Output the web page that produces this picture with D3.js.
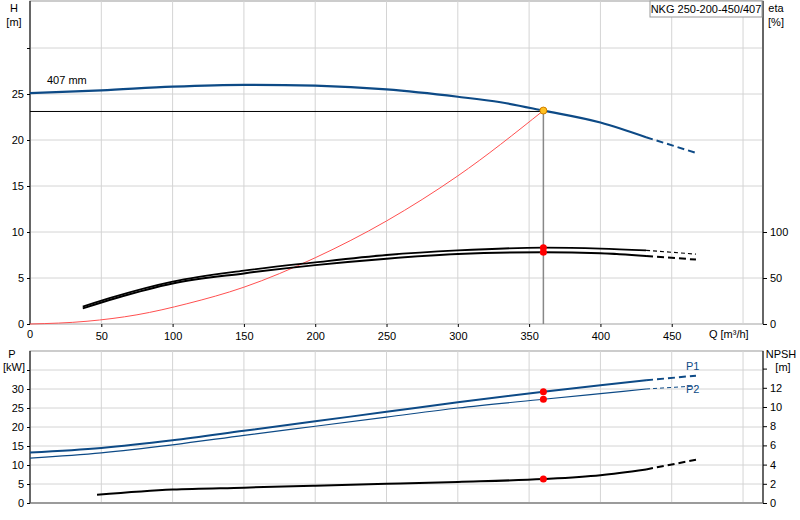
<!DOCTYPE html>
<html><head><meta charset="utf-8">
<script src="https://cdn.jsdelivr.net/npm/d3@7"></script>
<style>body{margin:0;background:#fff}text{font-family:Arial,"Liberation Sans",sans-serif;font-size:11px;fill:#000}</style>
</head><body><svg id="c" width="800" height="520"></svg>
<script>
const qTicks=[50,100,150,200,250,300,350,400,450];
const hTicks=[0,5,10,15,20,25];
const etaTicks=[0,50,100];
const pTicks=[0,5,10,15,20,25,30];
const npshTicks=[0,2,4,6,8,10,12];
const headQ=[0,50,100,150,200,250,300,330,360,400,432], headH=[25.1,25.4,25.8,26.0,25.9,25.5,24.7,24.1,23.2,21.9,20.3];
const headDashQ=[432,467], headDashH=[20.3,18.6];
const sysQ=[0,40,75,110,150,200,250,300,360], sysH=[0,0.3,1.0,2.2,4.0,7.2,11.2,16.1,23.2];
const etaQ=[37,60,100,150,200,250,300,360,400,432];
const eta1=[19,30,46,58,67,75,80,83,82,80], eta2=[17,28,44,55,64,71,76,78,77,74];
const etaDashQ=[432,467], eta1Dash=[80,76], eta2Dash=[74,70];
const pQ=[0,50,100,150,200,250,300,360,400,432];
const p1=[13.3,14.5,16.5,19,21.5,24,26.5,29.3,31,32.3], p2=[11.8,13.2,15.3,17.8,20.2,22.6,25,27.3,28.8,30];
const pDashQ=[432,467], p1Dash=[32.3,33.5], p2Dash=[30,30.8];
const nQ=[47,100,150,200,250,300,360,400,432], npsh=[0.85,1.4,1.6,1.8,2.0,2.2,2.5,2.9,3.5];
const nDashQ=[432,467], npshDash=[3.5,4.5];
const opQ=360, opH=23.2;

const svg=d3.select("#c");
const L=30,R=763;
const x=d3.scaleLinear().domain([0,514]).range([L,R]);
const yH=d3.scaleLinear().domain([0,35]).range([324,2]);
const yEta=d3.scaleLinear().domain([0,100]).range([324,232]);
const yP=d3.scaleLinear().domain([0,40]).range([503,351]);
const yN=d3.scaleLinear().domain([0,16]).range([503,349.4]);
const grid="#d4d4d4";
function panel(y0,y1,yTicks,yS){
  svg.append("rect").attr("x",L).attr("y",y0).attr("width",R-L).attr("height",y1-y0).attr("fill","none").attr("stroke","#999");
  [...qTicks,500].forEach(q=>svg.append("line").attr("x1",x(q)).attr("x2",x(q)).attr("y1",y0).attr("y2",y1).attr("stroke",grid));
  yTicks.forEach(v=>svg.append("line").attr("x1",L).attr("x2",R).attr("y1",yS(v)).attr("y2",yS(v)).attr("stroke",grid));
}
panel(1,324,[0,5,10,15,20,25,30],yH);
panel(351,503,[0,5,10,15,20,25,30,35],yP);
svg.append("g").attr("transform",`translate(${L},0)`).call(d3.axisLeft(yH).tickValues([...hTicks,30]).tickFormat(d=>d==30?"":d).tickSize(3)).call(g=>g.select(".domain").attr("d",`M0,1V324`));
svg.append("g").attr("transform",`translate(${R},0)`).call(d3.axisRight(yEta).tickValues(etaTicks).tickSize(4)).call(g=>g.select(".domain").attr("d",`M0,1V324`));
svg.append("g").attr("transform",`translate(0,324)`).call(d3.axisBottom(x).tickValues(qTicks).tickSize(3)).call(g=>g.select(".domain").remove()).call(g=>g.selectAll("text").attr("dy","0.9em"));
svg.append("text").attr("x",L).attr("y",338).attr("text-anchor","middle").text("0");
svg.append("text").attr("x",x(490)).attr("y",338).attr("text-anchor","middle").attr("font-size",10).text("Q [m³/h]");
svg.append("g").attr("transform",`translate(${L},0)`).call(d3.axisLeft(yP).tickValues([...pTicks,35]).tickFormat(d=>d==35?"":d).tickSize(3)).call(g=>g.select(".domain").attr("d",`M0,351V503`));
svg.append("g").attr("transform",`translate(${R},0)`).call(d3.axisRight(yN).tickValues([...npshTicks,14]).tickFormat(d=>d==14?"":d).tickSize(4)).call(g=>g.select(".domain").attr("d",`M0,351V503`));
svg.append("line").attr("x1",L).attr("x2",R).attr("y1",503).attr("y2",503).attr("stroke","#666");
svg.selectAll(".tick text").style("font-size","11px");
[["H",14,12],["[m]",14,26]].forEach(t=>svg.append("text").attr("x",t[1]).attr("y",t[2]).attr("text-anchor","middle").attr("font-size",10).text(t[0]));
[["eta",776,12],["[%]",776,26]].forEach(t=>svg.append("text").attr("x",t[1]).attr("y",t[2]).attr("text-anchor","middle").attr("font-size",10).text(t[0]));
[["P",12,358],["[kW]",14,371]].forEach(t=>svg.append("text").attr("x",t[1]).attr("y",t[2]).attr("text-anchor","middle").attr("font-size",10).text(t[0]));
[["NPSH",781,358],["[m]",783,371]].forEach(t=>svg.append("text").attr("x",t[1]).attr("y",t[2]).attr("text-anchor","middle").attr("font-size",10).text(t[0]));
svg.append("rect").attr("x",650).attr("y",1).attr("width",112).attr("height",16).attr("fill","#fff").attr("stroke","#999");
svg.append("text").attr("x",706).attr("y",13).attr("text-anchor","middle").attr("font-size",10).text("NKG 250-200-450/407");
svg.append("text").attr("x",47).attr("y",84).attr("font-size",10).text("407 mm");
const line=(xs,ys,yS,col,w,dash)=>svg.append("path").attr("d",d3.line().curve(d3.curveMonotoneX)(xs.map((q,i)=>[x(q),yS(ys[i])]))).attr("fill","none").attr("stroke",col).attr("stroke-width",w).attr("stroke-dasharray",dash||null);
svg.append("line").attr("x1",L).attr("x2",x(opQ)).attr("y1",yH(23.1)).attr("y2",yH(23.1)).attr("stroke","#000");
svg.append("line").attr("x1",x(opQ)).attr("x2",x(opQ)).attr("y1",yH(opH)).attr("y2",324).attr("stroke","#888").attr("stroke-width",1.5);
line(sysQ,sysH,yH,"#ff5050",1);
const blue="#0d4a86";
line(headQ,headH,yH,blue,2.2); line(headDashQ,headDashH,yH,blue,2,"7,4");
line(etaQ,eta1,yEta,"#000",1.8); line(etaDashQ,eta1Dash,yEta,"#000",1.2,"4,3");
line(etaQ,eta2,yEta,"#000",2); line(etaDashQ,eta2Dash,yEta,"#000",2,"7,4");
line(pQ,p1,yP,blue,2); line(pDashQ,p1Dash,yP,blue,2,"7,4");
line(pQ,p2,yP,blue,1.2); line(pDashQ,p2Dash,yP,blue,1,"4,3");
line(nQ,npsh,yN,"#000",2); line(nDashQ,npshDash,yN,"#000",2,"7,4");
svg.append("text").attr("x",x(460)).attr("y",yP(35)).attr("font-size",10).style("fill",blue).text("P1");
svg.append("text").attr("x",x(460)).attr("y",yP(29)).attr("font-size",10).style("fill",blue).text("P2");
const dot=(yv,yS,c)=>svg.append("circle").attr("cx",x(opQ)).attr("cy",yS(yv)).attr("r",3.5).attr("fill",c).attr("stroke",c==="red"?"none":"#d08000");
dot(83,yEta,"red");dot(78,yEta,"red");dot(29.3,yP,"red");dot(27.3,yP,"red");dot(2.5,yN,"red");
dot(opH,yH,"#ffc020");
</script></body></html>
